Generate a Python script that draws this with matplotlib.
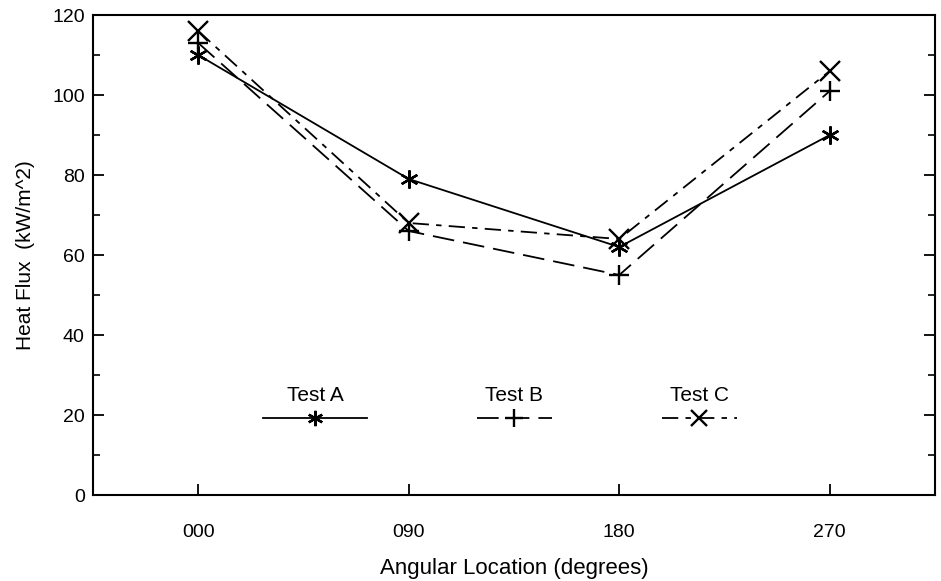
import matplotlib
matplotlib.use("Agg")
import matplotlib.pyplot as plt
from matplotlib.legend import Legend
from matplotlib.ticker import MultipleLocator, FixedLocator

plt.rcParams['font.family'] = ['Liberation Sans', 'DejaVu Sans']

angles = [0, 90, 180, 270]
tick_labels = ["000", "090", "180", "270"]
test_a = [110, 79, 62, 90]
test_b = [113, 66, 55, 101]
test_c = [116, 68, 64, 106]

fig = plt.figure(figsize=(9.41, 5.81), dpi=100)
ax = fig.add_axes([93/941, 1-495/581, (935-93)/941, (495-15)/581])

asterisk = (6, 2, 0)
styles = [
    dict(label="Test A", data=test_a, marker=asterisk, dashes=None, ms=13),
    dict(label="Test B", data=test_b, marker='+', dashes=(12, 5), ms=15),
    dict(label="Test C", data=test_c, marker='x', dashes=(9, 4, 3, 4), ms=14),
]
handles = []
for s in styles:
    kw = dict(color='black', lw=1.3, marker=s['marker'], ms=s['ms'], mew=1.7)
    if s['dashes'] is None:
        line, = ax.plot(angles, s['data'], ls='-', **kw)
    else:
        line, = ax.plot(angles, s['data'], ls='--', dashes=s['dashes'], **kw)
    handles.append(line)

ax.set_xlim(-45, 315)
ax.set_ylim(0, 120)
ax.xaxis.set_major_locator(FixedLocator(angles))
ax.set_xticklabels(tick_labels)
ax.yaxis.set_major_locator(MultipleLocator(20))
ax.yaxis.set_minor_locator(MultipleLocator(10))
ax.tick_params(axis='y', which='major', direction='in', length=8, width=1.3,
               left=True, right=True, labelsize=14, pad=6)
ax.tick_params(axis='y', which='minor', direction='in', length=5, width=1.2,
               left=True, right=True)
ax.tick_params(axis='x', which='major', direction='in', length=8, width=1.3,
               bottom=True, top=False, labelsize=14, pad=21)
for sp in ax.spines.values():
    sp.set_linewidth(1.5)

ax.set_xlabel("Angular Location (degrees)", fontsize=16, labelpad=12)
ax.set_ylabel("Heat Flux  (kW/m^2)", fontsize=15, labelpad=12)

# legends: title above a single handle
leg_x = [0.264, 0.50, 0.72]
leg_len = [7.5, 5.4, 5.4]
for h, s, lx, hl in zip(handles, styles, leg_x, leg_len):
    leg = Legend(ax, [h], [''], title=s['label'], loc='center',
                 bbox_to_anchor=(lx, 0.185), frameon=False, handlelength=hl,
                 handletextpad=0, borderaxespad=0, title_fontsize=15,
                 numpoints=1, markerscale=0.85, borderpad=0)
    ax.add_artist(leg)

fig.savefig("out.png", dpi=100)
